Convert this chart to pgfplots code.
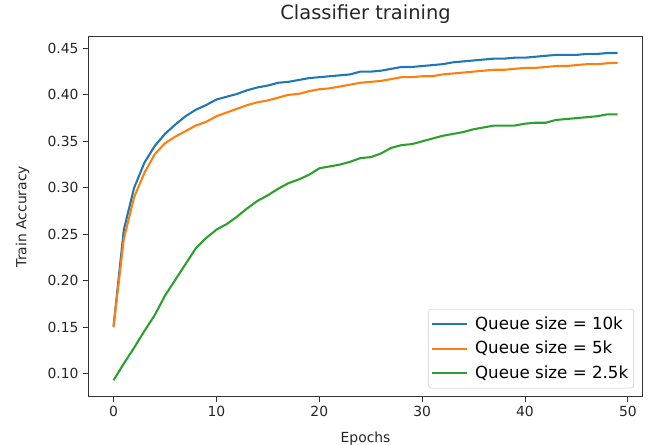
\documentclass[border=0pt]{standalone}
\usepackage{fontspec}
\setmainfont{DejaVu Sans}
\usepackage{pgfplots}
\pgfplotsset{compat=1.18}
\definecolor{tabblue}{HTML}{1F77B4}
\definecolor{taborange}{HTML}{FF7F0E}
\definecolor{tabgreen}{HTML}{2CA02C}
\begin{document}
\begin{tikzpicture}
\begin{axis}[
  at={(0,0)}, anchor=south west,
  scale only axis,
  width=399.2pt, height=259.2pt,
  xmin=-2.45, xmax=51.45,
  ymin=0.0754, ymax=0.4626,
  axis line style={black!80, line width=0.6pt},
  tick align=outside,
  major tick length=3.5pt,
  tick style={black!80, line width=0.6pt},
  xtick={0,10,20,30,40,50},
  ytick={0.10,0.15,0.20,0.25,0.30,0.35,0.40,0.45},
  xtick pos=bottom, ytick pos=left,
  font=\fontsize{10}{12}\selectfont,
  /pgf/number format/assume math mode=true,
  yticklabel style={/pgf/number format/fixed, /pgf/number format/fixed zerofill, /pgf/number format/precision=2, text=black!85},
  xticklabel style={text=black!85},
  scaled y ticks=false,
  title={Classifier training},
  title style={at={(axis description cs:0.5,1)}, anchor=base, yshift=6.2pt, font=\fontsize{14}{16}\selectfont, text=black!85},
  xlabel={Epochs},
  xlabel style={at={(axis description cs:0.5,0)}, anchor=base, yshift=-33pt, text=black!85},
  ylabel={Train Accuracy},
  ylabel style={at={([xshift=-47.4pt]axis description cs:0,0.5)}, anchor=center, text=black!85},
  legend cell align=left,
  legend style={at={(axis description cs:1,0)}, anchor=south east, xshift=-6.3pt, yshift=6.0pt,
    draw=black!20, rounded corners=2pt, fill=white, fill opacity=0.8, text opacity=1,
    font=\fontsize{12}{14}\selectfont, row sep=3pt, inner xsep=2pt, inner ysep=3.5pt,
    /tikz/every odd column/.append style={column sep=3pt}},
  legend image code/.code={\draw[#1] (0pt,0pt) -- (25pt,0pt);},
  every axis plot/.append style={line width=1.5pt, line join=round},
]
\addplot[tabblue] coordinates {
(0,0.151) (1,0.255) (2,0.300) (3,0.327) (4,0.345) (5,0.358) (6,0.368) (7,0.377) (8,0.384) (9,0.389)
(10,0.395) (11,0.398) (12,0.401) (13,0.405) (14,0.408) (15,0.410) (16,0.413) (17,0.414) (18,0.416) (19,0.418)
(20,0.419) (21,0.420) (22,0.421) (23,0.422) (24,0.425) (25,0.425) (26,0.426) (27,0.428) (28,0.430) (29,0.430)
(30,0.431) (31,0.432) (32,0.433) (33,0.435) (34,0.436) (35,0.437) (36,0.438) (37,0.439) (38,0.439) (39,0.440)
(40,0.440) (41,0.441) (42,0.442) (43,0.443) (44,0.443) (45,0.443) (46,0.444) (47,0.444) (48,0.445) (49,0.445)
};
\addlegendentry{Queue size = 10k}
\addplot[taborange] coordinates {
(0,0.150) (1,0.245) (2,0.290) (3,0.316) (4,0.336) (5,0.348) (6,0.355) (7,0.361) (8,0.367) (9,0.371)
(10,0.377) (11,0.381) (12,0.385) (13,0.389) (14,0.392) (15,0.394) (16,0.397) (17,0.400) (18,0.401) (19,0.404)
(20,0.406) (21,0.407) (22,0.409) (23,0.411) (24,0.413) (25,0.414) (26,0.415) (27,0.417) (28,0.419) (29,0.419)
(30,0.420) (31,0.420) (32,0.422) (33,0.423) (34,0.424) (35,0.425) (36,0.426) (37,0.427) (38,0.427) (39,0.428)
(40,0.429) (41,0.429) (42,0.430) (43,0.431) (44,0.431) (45,0.432) (46,0.433) (47,0.433) (48,0.434) (49,0.4345)
};
\addlegendentry{Queue size = 5k}
\addplot[tabgreen] coordinates {
(0,0.093) (1,0.111) (2,0.128) (3,0.146) (4,0.163) (5,0.184) (6,0.201) (7,0.218) (8,0.235) (9,0.246)
(10,0.255) (11,0.261) (12,0.269) (13,0.278) (14,0.286) (15,0.292) (16,0.299) (17,0.305) (18,0.309) (19,0.314)
(20,0.321) (21,0.323) (22,0.325) (23,0.328) (24,0.332) (25,0.333) (26,0.337) (27,0.343) (28,0.346) (29,0.347)
(30,0.350) (31,0.353) (32,0.356) (33,0.358) (34,0.360) (35,0.363) (36,0.365) (37,0.367) (38,0.367) (39,0.367)
(40,0.369) (41,0.370) (42,0.370) (43,0.373) (44,0.374) (45,0.375) (46,0.376) (47,0.377) (48,0.379) (49,0.379)
};
\addlegendentry{Queue size = 2.5k}
\end{axis}
\pgfresetboundingbox
\useasboundingbox (-63.6pt,-34.8pt) rectangle (408.0pt,285.6pt);
\end{tikzpicture}
\end{document}
